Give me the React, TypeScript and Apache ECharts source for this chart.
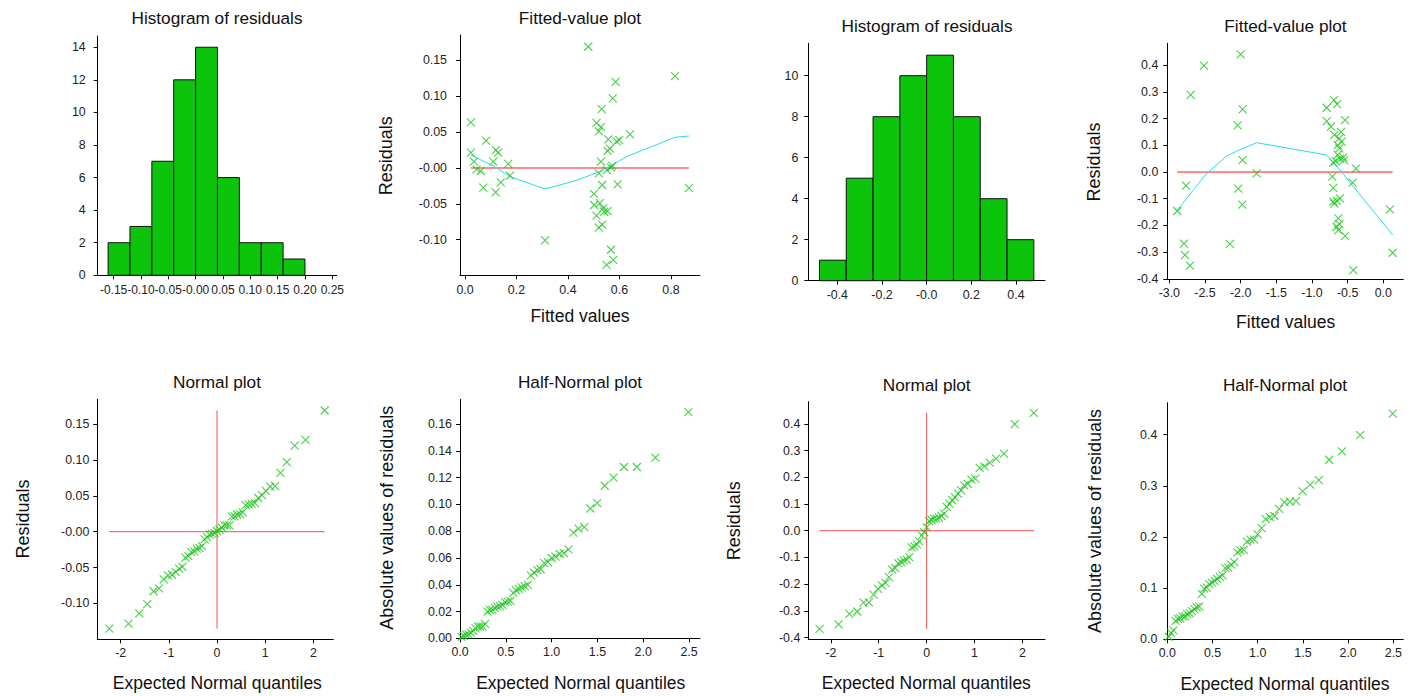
import React, { useEffect, useRef } from 'react';
import * as echarts from 'echarts';

const FONT = '"Liberation Sans", Arial, Helvetica, sans-serif';

// ---------- Model 1 ----------
const fitted1 = [0.023, 0.082, 0.023, 0.120, 0.129, 0.035, 0.110, 0.168, 0.045, 0.061, 0.175, 0.071, 0.139, 0.119,
  0.311, 0.816, 0.870,
  0.479, 0.585, 0.574, 0.531, 0.511, 0.528, 0.520, 0.641, 0.557, 0.589, 0.599, 0.554, 0.563, 0.528, 0.572, 0.567,
  0.520, 0.551, 0.533, 0.593, 0.501, 0.502, 0.524, 0.537, 0.541, 0.554, 0.511, 0.520, 0.533, 0.567, 0.576, 0.550];
const resid1 = [0.0637, 0.038, 0.0213, 0.025, 0.0213, 0.0088, 0.0088, 0.0056, -0.0019, -0.0042, -0.0107, -0.0274, -0.020, -0.0339,
  -0.101, 0.128, -0.028,
  0.169, 0.120, 0.097, 0.082, 0.063, 0.057, 0.051, 0.047, 0.040, 0.037, 0.039, 0.024, 0.027, 0.0088, 0.0028, 0.001,
  -0.0074, -0.003, -0.0237, -0.0228, -0.036, -0.0516, -0.049, -0.0562, -0.061, -0.060, -0.0665, -0.083, -0.079, -0.114, -0.128, -0.135];
const smooth1X = [0.023, 0.110, 0.175, 0.311, 0.427, 0.524, 0.570, 0.634, 0.718, 0.816, 0.870];
const smooth1Y = [0.018, 0.0028, -0.012, -0.0293, -0.018, -0.005, 0.004, 0.0167, 0.0288, 0.0428, 0.0446];
const hist1Edges = [-0.16, -0.12, -0.08, -0.04, 0.0, 0.04, 0.08, 0.12, 0.16, 0.20];
const hist1Counts = [2, 3, 7, 12, 14, 6, 2, 2, 1];

// ---------- Model 2 ----------
const fitted2 = [-2.888, -2.794, -2.780, -2.766, -2.710, -2.701, -2.514, -2.150, -2.042, -2.033, -2.000, -1.977, -1.972, -1.972, -1.776,
  -0.430, -0.421, -0.383, 0.093, 0.131,
  -0.691, -0.649, -0.794, -0.794, -0.537, -0.733, -0.593, -0.687, -0.621, -0.584, -0.640, -0.617, -0.640, -0.561, -0.551, -0.701, -0.668, -0.607,
  -0.537, -0.631, -0.654, -0.631, -0.617, -0.715, -0.701, -0.607, -0.701, -0.654, -0.687];
const resid2 = [-0.146, -0.268, -0.311, -0.051, -0.351, 0.289, 0.399, -0.269, 0.175, -0.0625, 0.441, -0.122, 0.045, 0.235, -0.005,
  -0.040, -0.3675, 0.0125, -0.140, -0.3025,
  0.270, 0.255, 0.241, 0.191, 0.195, 0.170, 0.151, 0.139, 0.125, 0.114, 0.101, 0.089, 0.064, 0.055, 0.045, 0.036, 0.041, 0.049,
  -0.239, -0.2175, -0.205, -0.174, -0.195, -0.0175, -0.059, -0.099, -0.111, -0.108, -0.118];
const smooth2X = [-2.888, -2.50, -2.20, -2.00, -1.776, -0.794, -0.607, 0.131];
const smooth2Y = [-0.143, -0.012, 0.060, 0.085, 0.110, 0.064, 0.0075, -0.236];
const hist2Edges = [-0.48, -0.36, -0.24, -0.12, 0.0, 0.12, 0.24, 0.36, 0.48];
const hist2Counts = [1, 5, 8, 10, 11, 8, 4, 2];

// ---------- Expected quantiles (n = 49) ----------
const normalQ = [-2.235, -1.838, -1.613, -1.449, -1.317, -1.205, -1.106, -1.016, -0.934, -0.858, -0.786, -0.719, -0.655, -0.593,
  -0.533, -0.475, -0.419, -0.364, -0.310, -0.257, -0.205, -0.153, -0.102, -0.051, 0, 0.051, 0.102, 0.153, 0.205, 0.257, 0.310,
  0.364, 0.419, 0.475, 0.533, 0.593, 0.655, 0.719, 0.786, 0.858, 0.934, 1.016, 1.106, 1.205, 1.317, 1.449, 1.613, 1.838, 2.235];
const halfNormalQ = [0.016, 0.041, 0.067, 0.092, 0.118, 0.143, 0.169, 0.195, 0.221, 0.247, 0.273, 0.300, 0.326, 0.353, 0.381,
  0.408, 0.436, 0.464, 0.493, 0.521, 0.551, 0.581, 0.611, 0.642, 0.674, 0.707, 0.740, 0.774, 0.808, 0.845, 0.881, 0.920, 0.959,
  1.000, 1.043, 1.088, 1.135, 1.184, 1.237, 1.295, 1.356, 1.423, 1.497, 1.580, 1.675, 1.790, 1.931, 2.133, 2.493];

// ---------- Tick labels ----------
const p1XTicks = [-0.15, -0.10, -0.05, 0, 0.05, 0.10, 0.15, 0.20, 0.25];
const p1YTicks = [0, 2, 4, 6, 8, 10, 12, 14];
const p2XTicks = [0, 0.2, 0.4, 0.6, 0.8];
const p2YTicks = [-0.10, -0.05, 0, 0.05, 0.10, 0.15];
const p3XTicks = [-0.4, -0.2, 0, 0.2, 0.4];
const p3YTicks = [0, 2, 4, 6, 8, 10];
const p4XTicks = [-3.0, -2.5, -2.0, -1.5, -1.0, -0.5, 0.0];
const p4YTicks = [-0.4, -0.3, -0.2, -0.1, 0, 0.1, 0.2, 0.3, 0.4];
const p5XTicks = [-2, -1, 0, 1, 2];
const p5YTicks = [-0.10, -0.05, 0, 0.05, 0.10, 0.15];
const p6XTicks = [0, 0.5, 1.0, 1.5, 2.0, 2.5];
const p6YTicks = [0, 0.02, 0.04, 0.06, 0.08, 0.10, 0.12, 0.14, 0.16];
const p7XTicks = [-2, -1, 0, 1, 2];
const p7YTicks = [-0.4, -0.3, -0.2, -0.1, 0, 0.1, 0.2, 0.3, 0.4];
const p8XTicks = [0, 0.5, 1.0, 1.5, 2.0, 2.5];
const p8YTicks = [0, 0.1, 0.2, 0.3, 0.4];

const titles = ['Histogram of residuals', 'Fitted-value plot', 'Histogram of residuals', 'Fitted-value plot',
  'Normal plot', 'Half-Normal plot', 'Normal plot', 'Half-Normal plot'];

const GREEN = '#1ec41e';
const BAR = '#0cc40c';
const RED = '#ff1a1a';
const CYAN = '#22ddf0';
const CROSS = 'path://M0,0L10,10M10,0L0,10';

function fmt(dec: number, negZero: boolean) {
  return (v: number) => {
    if (Math.abs(v) < 1e-9) return negZero ? '-' + (0).toFixed(dec) : (0).toFixed(dec);
    return v.toFixed(dec);
  };
}

function axis(gridIndex: number, min: number, max: number, ticks: number[], f: (v: number) => string, margin: number, pos: string, fs = 12.4) {
  return {
    type: 'value', gridIndex, min, max, position: pos,
    axisLine: { show: true, onZero: false, lineStyle: { color: '#000', width: 1 } },
    axisTick: { show: true, inside: false, length: 4, customValues: ticks, lineStyle: { color: '#000', width: 1 } },
    axisLabel: {
      show: true, customValues: ticks, formatter: f, margin, fontSize: fs, color: '#222', fontFamily: FONT,
      interval: 0, hideOverlap: false,
    },
    splitLine: { show: false },
  };
}

function histSeries(xi: number, edges: number[], counts: number[]) {
  const data = counts.map((c, i) => [edges[i], edges[i + 1], c]);
  return {
    type: 'custom', xAxisIndex: xi, yAxisIndex: xi, silent: true,
    encode: { x: [0, 1], y: 2 },
    data,
    renderItem: (params: any, api: any) => {
      const p0 = api.coord([api.value(0), api.value(2)]);
      const p1 = api.coord([api.value(1), 0]);
      return {
        type: 'rect',
        shape: { x: p0[0], y: p0[1], width: p1[0] - p0[0], height: p1[1] - p0[1] },
        style: { fill: BAR, stroke: '#111', lineWidth: 1 },
      };
    },
  };
}

function scatter(xi: number, data: number[][]) {
  return {
    type: 'scatter', xAxisIndex: xi, yAxisIndex: xi, silent: true, z: 4,
    symbol: CROSS, symbolSize: 8,
    itemStyle: { color: 'none', borderColor: GREEN, borderWidth: 1.1 },
    data,
  };
}

function line(xi: number, data: number[][], color: string, z = 3) {
  return {
    type: 'line', xAxisIndex: xi, yAxisIndex: xi, silent: true, z,
    showSymbol: false, symbol: 'none',
    lineStyle: { color, width: 1 },
    data,
  };
}

function textEl(text: string, x: number, y: number, size: number, rotate = false) {
  return {
    type: 'text', x, y, rotation: rotate ? Math.PI / 2 : 0, silent: true,
    style: { text, fontSize: size, fontFamily: FONT, fill: '#111', textAlign: 'center', textVerticalAlign: 'middle' },
  };
}

function buildOption() {
  const grids = [
    { left: 97.7, top: 36, width: 239, height: 239.3 },
    { left: 460, top: 35, width: 240, height: 240.3 },
    { left: 808.3, top: 43.3, width: 236.7, height: 237.4 },
    { left: 1167.3, top: 43.3, width: 236, height: 236 },
    { left: 97.3, top: 399.3, width: 236, height: 240 },
    { left: 460, top: 399.3, width: 240, height: 239 },
    { left: 808.3, top: 401.7, width: 236.7, height: 237.6 },
    { left: 1167.3, top: 402.7, width: 236, height: 236.6 },
  ];
  const xAxes = [
    axis(0, -0.179, 0.258, p1XTicks, fmt(2, true), 9, 'bottom', 12),
    axis(1, -0.0194, 0.913, p2XTicks, fmt(1, false), 9, 'bottom'),
    axis(2, -0.53, 0.53, p3XTicks, fmt(1, true), 8, 'bottom'),
    axis(3, -3.028, 0.28, p4XTicks, fmt(1, false), 8, 'bottom'),
    axis(4, -2.485, 2.414, p5XTicks, fmt(0, false), 8, 'bottom'),
    axis(5, 0, 2.62, p6XTicks, fmt(1, false), 8, 'bottom'),
    axis(6, -2.47, 2.47, p7XTicks, fmt(0, false), 8, 'bottom'),
    axis(7, 0, 2.61, p8XTicks, fmt(1, false), 8, 'bottom'),
  ];
  const yAxes = [
    axis(0, 0, 14.69, p1YTicks, fmt(0, false), 12, 'left'),
    axis(1, -0.1496, 0.1854, p2YTicks, fmt(2, true), 13, 'left'),
    axis(2, 0, 11.58, p3YTicks, fmt(0, false), 10, 'left'),
    axis(3, -0.402, 0.4826, p4YTicks, fmt(1, false), 9, 'left'),
    axis(4, -0.15, 0.1846, p5YTicks, fmt(2, true), 8, 'left'),
    axis(5, 0, 0.1786, p6YTicks, fmt(2, false), 8, 'left'),
    axis(6, -0.4066, 0.483, p7YTicks, fmt(1, false), 8, 'left'),
    axis(7, 0, 0.4625, p8YTicks, fmt(1, false), 10, 'left'),
  ];

  const sc1 = fitted1.map((f, i) => [f, resid1[i]]);
  const sc2 = fitted2.map((f, i) => [f, resid2[i]]);
  const sorted1 = [...resid1].sort((a, b) => a - b);
  const sorted2 = [...resid2].sort((a, b) => a - b);
  const abs1 = resid1.map((r) => Math.abs(r)).sort((a, b) => a - b);
  const abs2 = resid2.map((r) => Math.abs(r)).sort((a, b) => a - b);
  const nq1 = sorted1.map((r, i) => [normalQ[i], r]);
  const nq2 = sorted2.map((r, i) => [normalQ[i], r]);
  const hq1 = abs1.map((r, i) => [halfNormalQ[i], r]);
  const hq2 = abs2.map((r, i) => [halfNormalQ[i], r]);
  const qMin = normalQ[0];
  const qMax = normalQ[normalQ.length - 1];

  const series: any[] = [
    histSeries(0, hist1Edges, hist1Counts),
    line(1, [[Math.min(...fitted1), 0], [Math.max(...fitted1), 0]], RED),
    line(1, smooth1X.map((x, i) => [x, smooth1Y[i]]), CYAN),
    scatter(1, sc1),
    histSeries(2, hist2Edges, hist2Counts),
    line(3, [[Math.min(...fitted2), 0], [Math.max(...fitted2), 0]], RED),
    line(3, smooth2X.map((x, i) => [x, smooth2Y[i]]), CYAN),
    scatter(3, sc2),
    line(4, [[qMin, 0], [qMax, 0]], '#f05050'),
    line(4, [[0, sorted1[0]], [0, sorted1[sorted1.length - 1]]], '#f05050'),
    scatter(4, nq1),
    scatter(5, hq1),
    line(6, [[qMin, 0], [qMax, 0]], '#f05050'),
    line(6, [[0, sorted2[0]], [0, sorted2[sorted2.length - 1]]], '#f05050'),
    scatter(6, nq2),
    scatter(7, hq2),
  ];

  const T = 17.2;
  const YN = 18;
  const XN = 17.5;
  const graphic = [
    textEl(titles[0], 217, 17.5, T),
    textEl(titles[1], 580, 17.5, T),
    textEl(titles[2], 927, 26, T),
    textEl(titles[3], 1285.5, 26, T),
    textEl(titles[4], 217, 382, T),
    textEl(titles[5], 580, 382, T),
    textEl(titles[6], 926.7, 384.5, T),
    textEl(titles[7], 1285, 385.3, T),
    textEl('Residuals', 386, 155.7, YN, true),
    textEl('Fitted values', 580, 316.3, XN),
    textEl('Residuals', 1094.3, 162, YN, true),
    textEl('Fitted values', 1285.7, 321.7, XN),
    textEl('Residuals', 22.7, 519, YN, true),
    textEl('Expected Normal quantiles', 217.3, 683.3, XN),
    textEl('Absolute values of residuals', 386.7, 517.7, YN, true),
    textEl('Expected Normal quantiles', 580.7, 683, XN),
    textEl('Residuals', 734, 520.7, YN, true),
    textEl('Expected Normal quantiles', 926.3, 683.3, XN),
    textEl('Absolute values of residuals', 1095, 521, YN, true),
    textEl('Expected Normal quantiles', 1285, 684, XN),
  ];

  return {
    animation: false,
    backgroundColor: '#ffffff',
    grid: grids,
    xAxis: xAxes,
    yAxis: yAxes,
    series,
    graphic,
  };
}

export default function App() {
  const ref = useRef<HTMLDivElement>(null);
  useEffect(() => {
    document.body.style.margin = '0';
    const chart = echarts.init(ref.current as HTMLDivElement, null, { renderer: 'svg' });
    chart.setOption(buildOption() as any);
    return () => chart.dispose();
  }, []);
  return <div ref={ref} style={{ width: 1413, height: 696 }} />;
}
